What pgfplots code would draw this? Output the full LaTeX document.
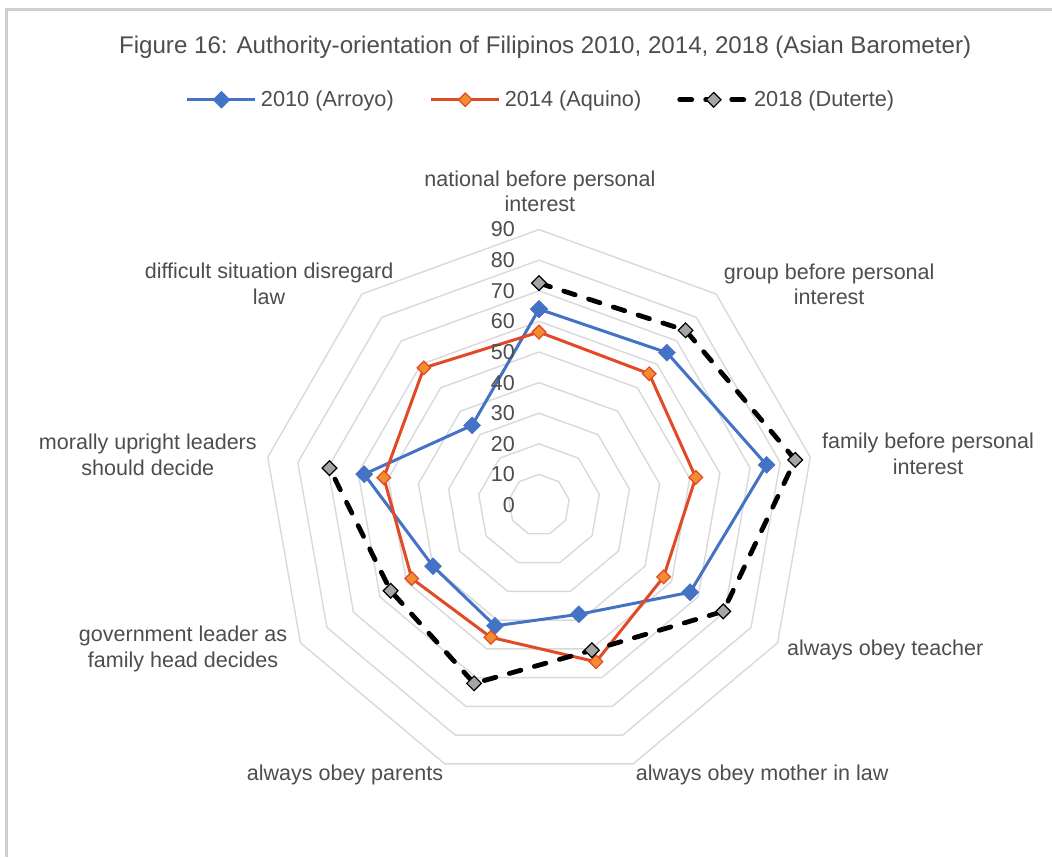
\documentclass[border=0pt]{standalone}
\usepackage{pgfplots}
\pgfplotsset{compat=1.18}
\usepackage{pgfplotstable}
\usepackage{fontspec}
\setmainfont{Liberation Sans}

\definecolor{c10}{HTML}{4472C4}
\definecolor{c14}{HTML}{E24A26}
\definecolor{c14m}{HTML}{F28C2E}
\definecolor{c18m}{HTML}{A5A5A5}
\definecolor{gridc}{HTML}{D9D9D9}
\definecolor{txt}{HTML}{4D4D4D}
\definecolor{framec}{HTML}{D0D0D0}

\pgfplotstableread{
a r10 r14 r18
0 64 56.5 72.5
40 65 56 74.5
80 75.5 52 85
120 57 47 69.5
160 38 54.5 50.5
200 42 46 62
240 40 48 56
280 58 51.5 69.5
320 34 58.5 nan
360 64 56.5 nan
}\chartdata

\newcommand{\lbl}{\fontsize{10.8}{13}\selectfont}

\begin{document}
\begin{tikzpicture}
\begin{axis}[
  x=1.53bp, y=1.53bp,
  xmin=-176.1, xmax=167.6, ymin=-115.0, ymax=165.0,
  hide axis, clip=false,
  unbounded coords=jump,
  legend columns=3,
  legend style={at={(axis cs:1.0,132.4)}, anchor=center, draw=none, fill=none,
    font=\fontsize{10.9}{13}\selectfont, text=txt,
    /tikz/every even column/.append style={column sep=16bp}},
  legend image code/.code={\draw[mark repeat=2,mark phase=2,#1] plot coordinates {(0cm,0cm)(0.6cm,0cm)(1.2cm,0cm)};},
]
% frame
\draw[framec, line width=1.3bp] (axis cs:-173.9,-115) -- (axis cs:-173.9,161.8) -- (axis cs:167.6,161.8);

% grid rings
\pgfplotsinvokeforeach{10,20,30,40,50,60,70,80,90}{
  \addplot[gridc, line width=0.7bp, forget plot, unbounded coords=discard] table[x expr={#1*sin(\thisrow{a})}, y expr={#1*cos(\thisrow{a})}] {\chartdata};
}

% series
\addplot[c10, line width=1.5bp, mark=square*, mark size=2.4bp, mark options={solid, rotate=45, fill=c10, draw=c10}]
  table[x expr={\thisrow{r10}*sin(\thisrow{a})}, y expr={\thisrow{r10}*cos(\thisrow{a})}] {\chartdata};
\addlegendentry{2010 (Arroyo)}
\addplot[c14, line width=1.5bp, mark=square*, mark size=2.4bp, mark options={solid, rotate=45, fill=c14m, draw=c14, line width=0.6bp}]
  table[x expr={\thisrow{r14}*sin(\thisrow{a})}, y expr={\thisrow{r14}*cos(\thisrow{a})}] {\chartdata};
\addlegendentry{2014 (Aquino)}
\addplot[black, line width=2.4bp, dash pattern=on 6bp off 7bp, line cap=round, mark=square*, mark size=2.6bp, mark options={solid, rotate=45, fill=c18m, draw=black, line width=0.6bp}]
  table[x expr={\thisrow{r18}*sin(\thisrow{a})}, y expr={\thisrow{r18}*cos(\thisrow{a})}] {\chartdata};
\addlegendentry{2018 (Duterte)}

% radial tick labels
\pgfplotsinvokeforeach{0,10,20,30,40,50,60,70,80,90}{
  \node[anchor=east, inner sep=0pt, text=txt, font=\lbl] at (axis cs:-7.8,#1) {#1};
}

% title
\node[text=txt, font=\fontsize{12.1}{14}\selectfont] at (axis cs:2.0,149.7) {Figure 16: Authority-orientation of Filipinos 2010, 2014, 2018 (Asian Barometer)};

% category labels
\node[text=txt, font=\lbl, align=center] at (axis cs:0.3,102.5) {national before personal\\interest};
\node[text=txt, font=\lbl, align=center] at (axis cs:94.8,72.1) {group before personal\\interest};
\node[text=txt, font=\lbl, align=center] at (axis cs:127.1,16.7) {family before personal\\interest};
\node[text=txt, font=\lbl, align=center] at (axis cs:113.1,-47.4) {always obey teacher};
\node[text=txt, font=\lbl, align=center] at (axis cs:72.9,-88.2) {always obey mother in law};
\node[text=txt, font=\lbl, align=center] at (axis cs:-63.4,-88.2) {always obey parents};
\node[text=txt, font=\lbl, align=center] at (axis cs:-116.3,-47.1) {government leader as\\family head decides};
\node[text=txt, font=\lbl, align=center] at (axis cs:-127.8,16.3) {morally upright leaders\\should decide};
\node[text=txt, font=\lbl, align=center] at (axis cs:-88.2,72.2) {difficult situation disregard\\law};
\end{axis}
\pgfresetboundingbox
\useasboundingbox (current axis.south west) rectangle (current axis.north east);
\end{tikzpicture}
\end{document}
